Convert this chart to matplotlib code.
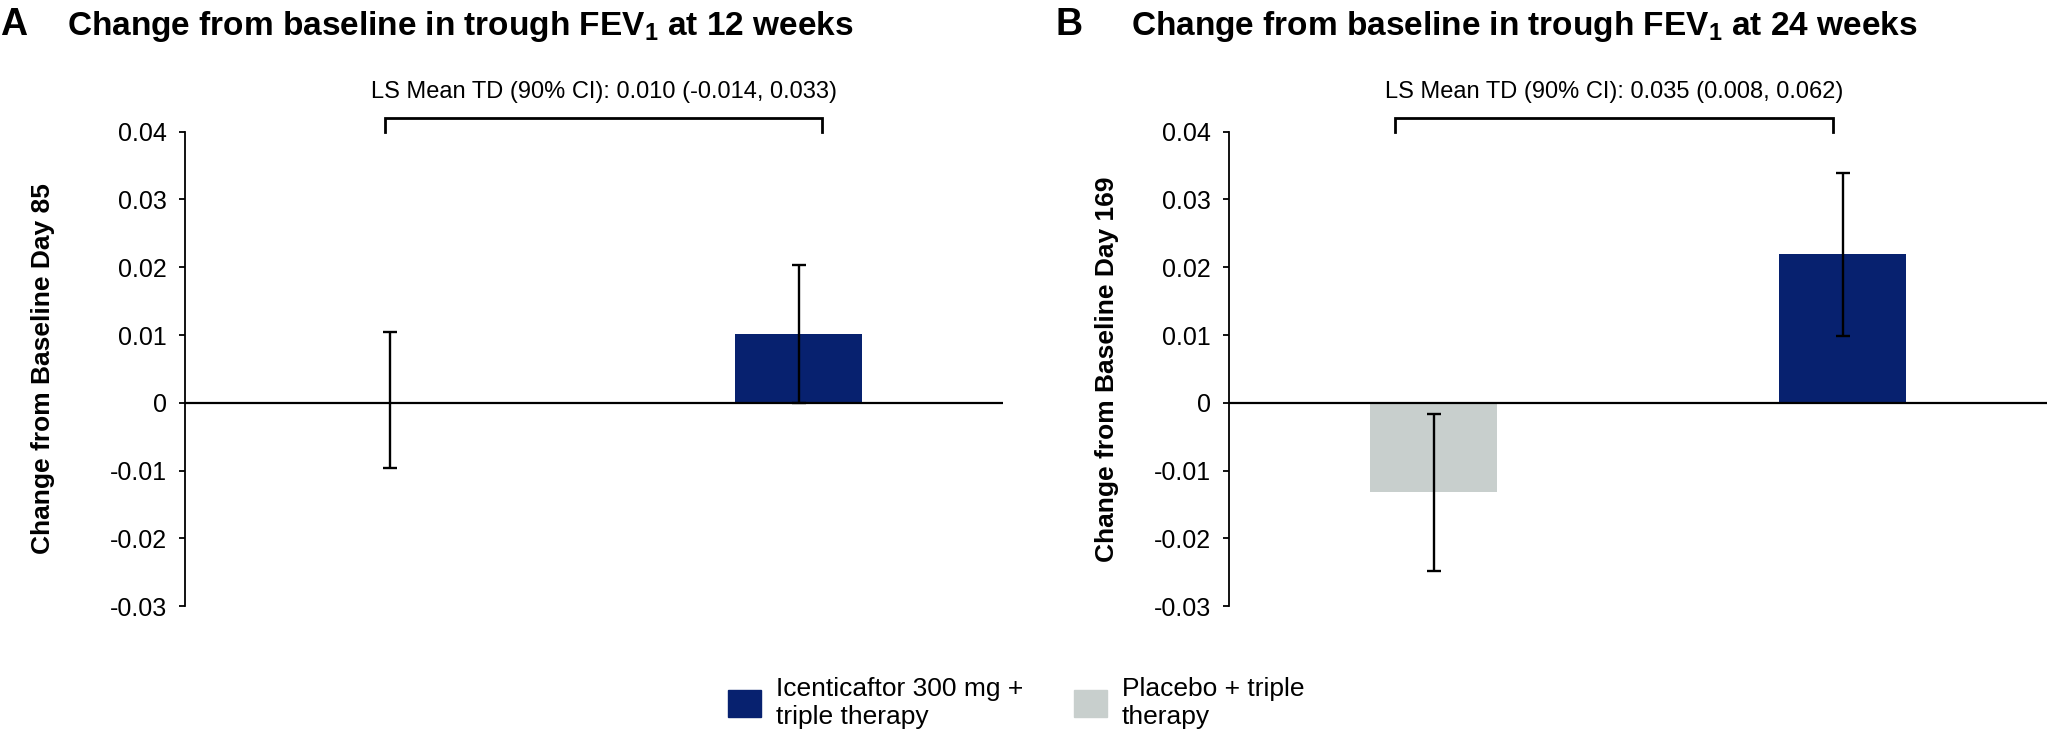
import numpy as np
import matplotlib
matplotlib.use('Agg')
import matplotlib.pyplot as plt
from matplotlib.patches import Patch

plt.rcParams['font.family'] = ['Liberation Sans', 'DejaVu Sans']
plt.rcParams['mathtext.default'] = 'regular'

# data
groups = ['Placebo + triple\ntherapy', 'Icenticaftor 300 mg +\ntriple therapy']
colors = ['#c8cfcd', '#07216f']

wk12_mean = [0.0001, 0.0101]
wk12_lo = [-0.0097, 0.0000]
wk12_hi = [0.0104, 0.0203]

wk24_mean = [-0.0132, 0.0219]
wk24_lo = [-0.0248, 0.0099]
wk24_hi = [-0.0016, 0.0339]

yticks = [-0.03, -0.02, -0.01, 0, 0.01, 0.02, 0.03, 0.04]
ytick_labels = ['-0.03', '-0.02', '-0.01', '0', '0.01', '0.02', '0.03', '0.04']

panels = [
    dict(letter='A', title='Change from baseline in trough FEV$_1$ at 12 weeks',
         ylabel='Change from Baseline Day 85', mean=wk12_mean, lo=wk12_lo, hi=wk12_hi,
         td='LS Mean TD (90% CI): 0.010 (-0.014, 0.033)',
         bracket=(-0.011, 1.057), td_x=0.524, ylab_x=-0.1736,
         rect=[185 / 2048, 0.1766, 818 / 2048, 0.6444],
         letter_x=0.0 / 2048, title_x=67 / 2048),
    dict(letter='B', title='Change from baseline in trough FEV$_1$ at 24 weeks',
         ylabel='Change from Baseline Day 169', mean=wk24_mean, lo=wk24_lo, hi=wk24_hi,
         td='LS Mean TD (90% CI): 0.035 (0.008, 0.062)',
         bracket=(-0.094, 0.977), td_x=0.441, ylab_x=-0.149,
         rect=[1229 / 2048, 0.1766, 818 / 2048, 0.6444],
         letter_x=1056 / 2048, title_x=1131 / 2048),
]

fig = plt.figure(figsize=(20.48, 7.36), dpi=100)

for p in panels:
    ax = fig.add_axes(p['rect'])
    x = np.arange(len(groups))
    mean = np.array(p['mean'])
    yerr = [mean - np.array(p['lo']), np.array(p['hi']) - mean]
    ax.bar(x, mean, width=0.31, color=colors, zorder=2)
    ax.errorbar(x, mean, yerr=yerr, fmt='none', ecolor='black',
                elinewidth=1.7, capsize=5, capthick=1.7, zorder=4)
    ax.axhline(0, color='black', lw=1.6, zorder=3)

    ax.set_xlim(-0.5, 1.5)
    ax.set_ylim(-0.03, 0.04)
    ax.set_yticks(yticks)
    ax.set_yticklabels(ytick_labels)
    ax.set_xticks([])
    for s in ['top', 'right', 'bottom']:
        ax.spines[s].set_visible(False)
    ax.spines['left'].set_linewidth(1.3)
    ax.tick_params(axis='y', labelsize=18, length=4.3, width=1.3, pad=8.6)

    ax.text(p['ylab_x'], 0.5, p['ylabel'], rotation=90, ha='center', va='center',
            fontsize=19, fontweight='bold', transform=ax.transAxes)

    # treatment difference bracket
    b0, b1 = p['bracket']
    ax.plot([b0, b0, b1, b1], [0.0400, 0.0421, 0.0421, 0.0400], color='black',
            lw=2, clip_on=False, solid_joinstyle='miter')
    ax.text(p['td_x'], 0.0450, p['td'], ha='center', va='baseline', fontsize=17)

    fig.text(p['letter_x'], 1 - 35 / 736, p['letter'], fontsize=27, fontweight='bold',
             ha='left', va='baseline')
    fig.text(p['title_x'], 1 - 35 / 736, p['title'], fontsize=24, fontweight='bold',
             ha='left', va='baseline')

handles = [Patch(color=colors[1], label=groups[1]), Patch(color=colors[0], label=groups[0])]
fig.legend(handles=handles, loc='center', bbox_to_anchor=(0.4963, 0.045), ncol=2,
           frameon=False, fontsize=19, handlelength=1.25, handleheight=1.25,
           handletextpad=0.57, columnspacing=1.9, borderpad=0)

plt.savefig('out.png', dpi=100)
